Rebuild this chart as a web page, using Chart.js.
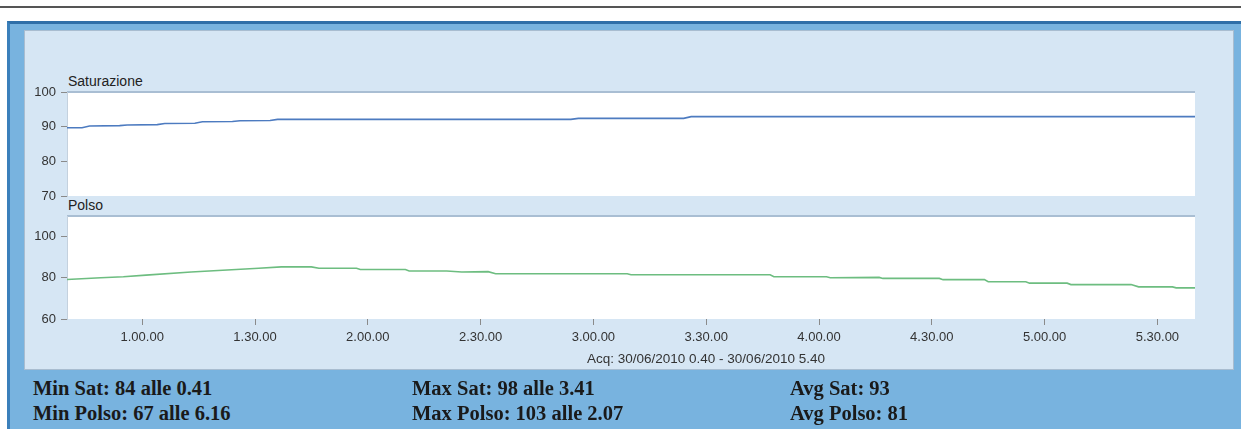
<!DOCTYPE html>
<html>
<head>
<meta charset="utf-8">
<script src="https://cdn.jsdelivr.net/npm/chart.js@4.4.1/dist/chart.umd.min.js"></script>
<style>
  html, body { margin: 0; padding: 0; background: #fff; }
  body { width: 1241px; height: 429px; position: relative; overflow: hidden; font-family: "Liberation Sans", Arial, sans-serif; }
  #rule { position: absolute; left: 0; top: 6px; width: 1241px; height: 2px; background: #555; }
  #frame { position: absolute; left: 7px; top: 21px; right: 0; bottom: 0; background: #78b3df;
           border-top: 3px solid #2f6fa8; border-left: 3px solid #3b80bb; }
  #panel { position: absolute; left: 24px; top: 30px; width: 1208px; height: 338px; background: #d6e6f4;
           border: 1px solid #a9bdd0; }
  canvas { position: absolute; left: 24px; }
  .titolo { position: absolute; left: 68px; font-size: 14px; color: #222; line-height: 16px; }
  #acq { position: absolute; left: 587px; top: 351px; font-size: 13.5px; color: #333; white-space: nowrap; }
  .stat { position: absolute; font-family: "Liberation Serif", "Times New Roman", serif; font-weight: bold;
          font-size: 20.5px; line-height: 24px; color: #1a1a1a; white-space: nowrap; }
</style>
</head>
<body>
<div id="rule"></div>
<div id="frame"></div>
<div id="panel"></div>
<div class="titolo" style="top:73px">Saturazione</div>
<div class="titolo" style="top:197px">Polso</div>
<canvas id="grafico-sat" width="1209" height="150" style="top:60px"></canvas>
<canvas id="grafico-polso" width="1209" height="173" style="top:196px"></canvas>
<div id="acq">Acq: 30/06/2010 0.40 - 30/06/2010 5.40</div>
<div id="stats"></div>

<script>
// minuti dall'inizio del giorno
const satMinuti  = [40, 44, 46, 54, 56, 64, 66, 74, 76, 84, 86, 94, 96, 174, 176, 204, 206, 340];
const satValori  = [89.7, 89.7, 90.2, 90.3, 90.5, 90.6, 90.9, 91.0, 91.4, 91.5, 91.7, 91.8, 92.1, 92.1, 92.4, 92.4, 92.9, 92.9];

const polsoMinuti = [40, 49, 55, 61, 73, 85, 91, 97, 105, 107, 117, 118, 130, 131, 141, 145, 152, 154, 189, 190,
                     227, 228, 242, 243, 256, 257, 272, 273, 284, 285, 295, 296, 306, 307, 323, 325, 334, 335, 340];
const polsoValori = [79.2, 80.0, 80.5, 81.3, 82.8, 84.0, 84.6, 85.3, 85.3, 84.6, 84.6, 84.0, 84.0, 83.3, 83.3, 82.8, 83.0, 82.0, 82.0, 81.5,
                     81.5, 80.5, 80.5, 80.0, 80.2, 79.7, 79.7, 79.1, 79.1, 78.1, 78.1, 77.4, 77.4, 76.7, 76.7, 75.6, 75.6, 75.1, 75.1];

const tickOre   = [60, 90, 120, 150, 180, 210, 240, 270, 300, 330];
const tickSat   = [70, 80, 90, 100];
const tickPolso = [60, 80, 100];

const statsColonne = [33, 412, 790];
const statsRighe = [
  ["Min Sat: 84 alle 0.41", "Max Sat: 98 alle 3.41", "Avg Sat: 93"],
  ["Min Polso: 67 alle 6.16", "Max Polso: 103 alle 2.07", "Avg Polso: 81"],
];

function etichettaOra(m) {
  const h = Math.floor(m / 60), mm = m % 60;
  return `${h}.${String(mm).padStart(2, "0")}.00`;
}

function punti(xs, ys) { return xs.map((x, i) => ({ x, y: ys[i] })); }

// sfondo bianco dell'area del grafico + bordo superiore
const sfondoArea = {
  id: "sfondoArea",
  beforeDraw(chart) {
    const { ctx, chartArea: a } = chart;
    ctx.save();
    ctx.fillStyle = "#ffffff";
    ctx.fillRect(a.left, a.top, a.right - a.left, a.bottom - a.top);
    ctx.strokeStyle = "#a9bed3";
    ctx.lineWidth = 2;
    ctx.beginPath(); ctx.moveTo(a.left, a.top); ctx.lineTo(a.right, a.top); ctx.stroke();
    ctx.restore();
  },
};

Chart.defaults.font.family = '"Liberation Sans", Arial, sans-serif';
Chart.defaults.font.size = 13;
Chart.defaults.color = "#333";

function scalaY(min, max, ticks) {
  return {
    min, max,
    afterBuildTicks: (s) => { s.ticks = ticks.map((v) => ({ value: v })); },
    afterFit: (s) => { s.width = 43; },
    ticks: { padding: 5, color: "#333", autoSkip: false },
    grid: { drawOnChartArea: false, tickLength: 6, color: "#8a8a8a" },
    border: { color: "#c4d1de" },
  };
}

function grafico(id, xs, ys, colore, yScala, mostraX, padding) {
  new Chart(document.getElementById(id), {
    type: "line",
    data: { datasets: [{ data: punti(xs, ys), borderColor: colore, borderWidth: 1.6, pointRadius: 0, tension: 0, fill: false }] },
    options: {
      responsive: false,
      animation: false,
      layout: { padding },
      plugins: { legend: { display: false }, tooltip: { enabled: false } },
      scales: {
        x: {
          type: "linear", min: 40, max: 340, display: mostraX,
          afterBuildTicks: (s) => { s.ticks = tickOre.map((v) => ({ value: v })); },
          afterFit: (s) => { if (mostraX) s.height = 50; },
          ticks: { callback: (v) => etichettaOra(v), padding: 5, maxRotation: 0, autoSkip: false, color: "#333" },
          grid: { drawOnChartArea: false, tickLength: 6, color: "#8a8a8a" },
          border: { display: false },
        },
        y: yScala,
      },
    },
    plugins: [sfondoArea],
  });
}

grafico("grafico-sat", satMinuti, satValori, "#4d7bc0", scalaY(70, 100, tickSat), false,
        { top: 32, right: 38, bottom: 14, left: 0 });
grafico("grafico-polso", polsoMinuti, polsoValori, "#6dbd80", scalaY(60, 110, tickPolso), true,
        { top: 20, right: 38, bottom: 0, left: 0 });

const stats = document.getElementById("stats");
statsRighe.forEach((riga, r) => {
  riga.forEach((testo, c) => {
    const d = document.createElement("div");
    d.className = "stat";
    d.style.left = statsColonne[c] + "px";
    d.style.top = (376 + r * 24.5) + "px";
    d.textContent = testo;
    stats.appendChild(d);
  });
});
</script>
</body>
</html>
